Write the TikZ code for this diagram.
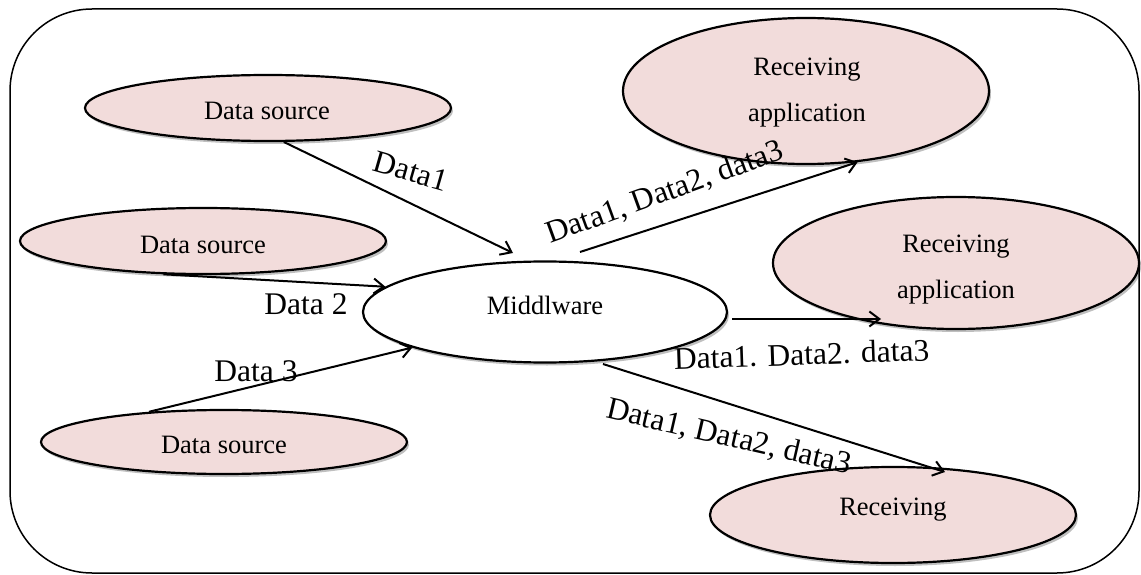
\documentclass[tikz,border=0pt]{standalone}
\usepackage{fontspec}
\setmainfont{Liberation Serif}
\usetikzlibrary{arrows.meta,shadows,shapes.geometric}
\definecolor{pinkfill}{HTML}{F2DCDB}
\newcommand{\txtfont}{\fontsize{26.5}{30}\selectfont}
\newcommand{\lblfont}{\fontsize{31.5}{36}\selectfont}
\begin{document}
\begin{tikzpicture}[x=1pt,y=-1pt,
  ell/.style={ellipse, draw=black, line width=2.2pt, inner sep=0pt,
    drop shadow={shadow xshift=2pt,shadow yshift=-3pt,opacity=0.25,fill=black}},
  srcnode/.style={ell, fill=pinkfill, minimum width=366pt},
  midnode/.style={ell, fill=white},
  txt/.style={font=\txtfont, inner sep=0pt, anchor=base},
  lbl/.style={font=\lblfont, inner sep=0pt, anchor=base},
  arr/.style={line width=2pt, -{Straight Barb[length=10pt,width=15pt,line width=2pt]}}
]
\useasboundingbox (0,0) rectangle (1141,575);
\draw[line width=1.5pt, rounded corners=82pt] (10,9) rectangle (1139,573);

% data sources
\node[srcnode, minimum height=66pt] (ds1) at (268,108) {};
\node[srcnode, minimum height=66pt] (ds2) at (203,241) {};
\node[srcnode, minimum height=64pt] (ds3) at (224,442) {};
% middleware
\node[midnode, minimum width=364pt, minimum height=101pt] (mw) at (545,312) {};
% receiving applications
\node[srcnode, minimum height=146pt] (ra1) at (806,91) {};
\node[srcnode, minimum height=132pt] (ra2) at (956,263) {};
\node[srcnode, minimum height=96pt] (ra3) at (893,515) {};

% node texts
\node[txt] (t1) at (267,120) {Data source};
\node[txt] (t2) at (203,253) {Data source};
\node[txt] (t3) at (224,453) {Data source};
\node[txt] (tm) at (545,314) {Middlware};
\node[txt] (r1a) at (807,76) {Receiving};
\node[txt] (r1b) at (807,122) {application};
\node[txt] (r2a) at (956,252) {Receiving};
\node[txt] (r2b) at (956,298) {application};
\node[txt] (r3a) at (893,515) {Receiving};

% free arrow ends
\coordinate (a1e) at (513,253);
\coordinate (a4s) at (580,252);
\coordinate (a5s) at (732,319);
\coordinate (a5e) at (881,319);
\coordinate (a6s) at (603,364);
\coordinate (a6e) at (945,472);

% arrows
\draw[arr] (ds1.-65.6) -- (a1e);
\draw[arr] (ds2.220.4) -- (mw.171.1);
\draw[arr] (ds3.158.4) -- (mw.195.2);
\draw[arr] (a4s) -- (ra1.-54);
\draw[arr] (a5s) -- (a5e);
\draw[arr] (a6s) -- (a6e);

% labels
\node[lbl, rotate=-16] (l1) at (408,181) {Data1};
\node[lbl] (l2) at (306,314) {Data 2};
\node[lbl] (l3) at (256,381) {Data 3};
\node[lbl, rotate=20] (l4) at (668,201) {Data1, Data2, data3};
\node[lbl, rotate=2] (l5) at (802,365) {Data1. Data2. data3};
\node[lbl, rotate=-13] (l6) at (727,446) {Data1, Data2, data3};
\end{tikzpicture}
\end{document}
